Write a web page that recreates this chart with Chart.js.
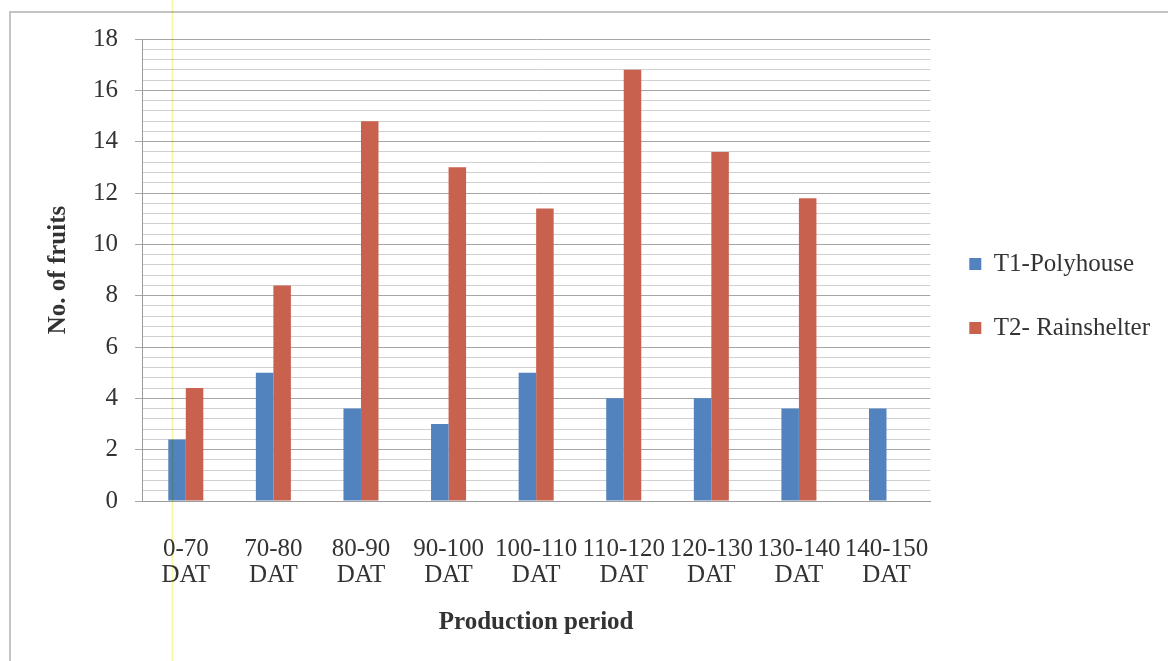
<!DOCTYPE html>
<html>
<head>
<meta charset="utf-8">
<title>No. of fruits by production period</title>
<script src="https://cdn.jsdelivr.net/npm/chart.js@4.4.1/dist/chart.umd.min.js"></script>
<style>
  html, body { margin: 0; padding: 0; background: #ffffff; }
  #wrap { width: 1168px; height: 661px; }
</style>
</head>
<body>
<div id="wrap"><canvas id="c" width="1168" height="661"></canvas></div>
<script>
// Production periods (days after transplanting)
const periods = [
  ['0-70', 'DAT'], ['70-80', 'DAT'], ['80-90', 'DAT'], ['90-100', 'DAT'],
  ['100-110', 'DAT'], ['110-120', 'DAT'], ['120-130', 'DAT'], ['130-140', 'DAT'],
  ['140-150', 'DAT']
];

// Number of fruits per period
const polyhouse   = [2.4, 5.0, 3.6, 3.0, 5.0, 4.0, 4.0, 3.6, 3.6];
const rainshelter = [4.4, 8.4, 14.8, 13.0, 11.4, 16.8, 13.6, 11.8, null];

const seriesNames = ['T1-Polyhouse', 'T2- Rainshelter'];

// Value axis
const yMin = 0;
const yMax = 18;
const yMinorStep = 0.4;
const yMajorStep = 2;

const FONT = 'Liberation Serif, "Times New Roman", serif';
const TEXT = '#333333';

const isMajor = v => Math.abs(v / yMajorStep - Math.round(v / yMajorStep)) < 1e-6;

// Outer frame and thin yellow marker line
const decorations = {
  id: 'decorations',
  beforeDraw(chart) {
    const ctx = chart.ctx;
    ctx.save();
    ctx.fillStyle = '#ffffff';
    ctx.fillRect(0, 0, chart.width, chart.height);
    ctx.strokeStyle = '#c4c4c4';
    ctx.lineWidth = 2;
    ctx.strokeRect(10, 12, chart.width + 40, chart.height + 40);
    ctx.restore();
  },
  afterDraw(chart) {
    const ctx = chart.ctx;
    ctx.save();
    ctx.globalCompositeOperation = 'multiply';
    ctx.strokeStyle = 'rgb(246,246,160)';
    ctx.lineWidth = 1.5;
    ctx.beginPath();
    ctx.moveTo(172.5, 0);
    ctx.lineTo(172.5, chart.height);
    ctx.stroke();
    ctx.restore();
  }
};

new Chart(document.getElementById('c'), {
  type: 'bar',
  data: {
    labels: periods,
    datasets: [
      {
        label: seriesNames[0],
        data: polyhouse,
        backgroundColor: 'rgb(82,131,190)',
        borderWidth: 0,
        categoryPercentage: 0.4,
        barPercentage: 1.0
      },
      {
        label: seriesNames[1],
        data: rainshelter,
        backgroundColor: 'rgb(200,98,78)',
        borderWidth: 0,
        categoryPercentage: 0.4,
        barPercentage: 1.0
      }
    ]
  },
  options: {
    responsive: false,
    animation: false,
    devicePixelRatio: 1,
    layout: { padding: { top: 39, left: 0, right: 8, bottom: 0 } },
    plugins: {
      tooltip: { enabled: false },
      legend: {
        position: 'right',
        fullSize: false,
        align: 'center',
        title: { display: true, text: '', font: { size: 12 }, padding: { top: 18.8, bottom: 18.8 } },
        labels: {
          boxWidth: 12,
          boxHeight: 12,
          padding: 39,
          color: TEXT,
          font: { family: FONT, size: 25 }
        }
      }
    },
    scales: {
      x: {
        grid: { display: false, drawTicks: false },
        border: { display: true, color: '#9a9a9a', width: 1 },
        ticks: {
          color: TEXT,
          font: { family: FONT, size: 25, lineHeight: 1.04 },
          padding: 35,
          maxRotation: 0,
          minRotation: 0,
          autoSkip: false
        },
        title: {
          display: true,
          text: 'Production period',
          color: TEXT,
          font: { family: FONT, size: 25, weight: 'bold', lineHeight: 1.2 },
          padding: { top: 23, bottom: 23 }
        },
        afterFit(scale) { scale.height = 160; }
      },
      y: {
        min: yMin,
        max: yMax,
        grid: {
          color: c => isMajor(c.tick.value) ? '#a6a6a6' : '#d0d0d0',
          tickColor: c => isMajor(c.tick.value) ? '#a6a6a6' : 'rgba(0,0,0,0)',
          tickLength: 7,
          lineWidth: 1
        },
        border: { display: true, color: '#9a9a9a', width: 1 },
        ticks: {
          stepSize: yMinorStep,
          autoSkip: false,
          color: TEXT,
          font: { family: FONT, size: 25 },
          padding: 17,
          callback: v => isMajor(v) ? String(Math.round(v)) : ''
        },
        title: {
          display: true,
          text: 'No. of fruits',
          color: TEXT,
          font: { family: FONT, size: 25, weight: 'bold', lineHeight: 1.2 },
          padding: { top: 44, bottom: 44 }
        },
        afterFit(scale) { scale.width = 142; }
      }
    }
  },
  plugins: [decorations]
});
</script>
</body>
</html>
